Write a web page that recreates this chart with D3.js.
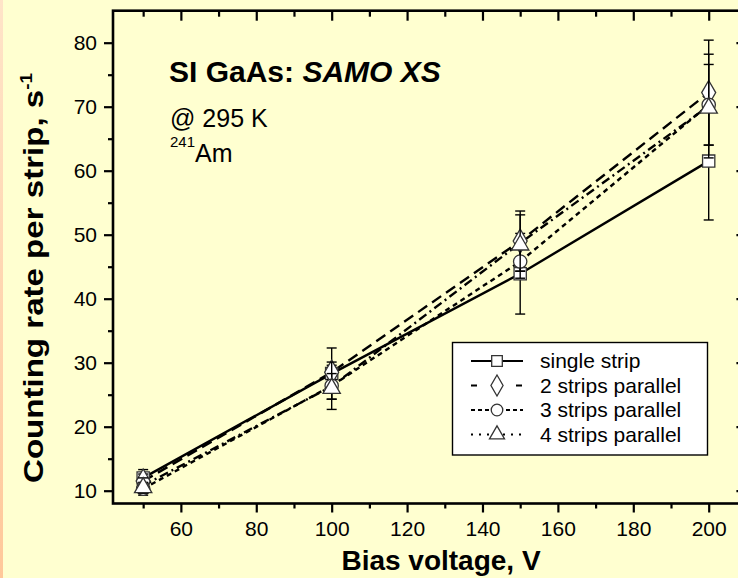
<!DOCTYPE html>
<html>
<head>
<meta charset="utf-8">
<script src="https://cdn.jsdelivr.net/npm/d3@7"></script>
<style>
  body { margin: 0; background: #FFFFD0; }
  svg { display: block; font-family: "Liberation Sans", Arial, sans-serif; }
</style>
</head>
<body>
<script>
// bias voltage, V
var voltages = [50, 100, 150, 200];
var seriesNames = ["single strip", "2 strips parallel", "3 strips parallel", "4 strips parallel"];
// counting rate per strip, s^-1
var singleStrip = [12.0, 28.3, 43.9, 61.5];
var twoStrips = [11.5, 28.5, 49.0, 72.2];
var threeStrips = [10.3, 26.4, 45.8, 70.3];
var fourStrips = [10.8, 26.3, 48.7, 70.1];
// error bars (+/-)
var singleErr = [1.3, 4.0, 6.3, 9.2];
var twoErr = [1.1, 1.1, 4.7, 8.2];
var threeErr = [1.0, 3.7, 2.6, 6.3];
var fourErr = [1.2, 2.0, 4.4, 8.1];
var xMajor = [60, 80, 100, 120, 140, 160, 180, 200];
var xMinor = [50, 70, 90, 110, 130, 150, 170, 190, 210];
var yMajor = [10, 20, 30, 40, 50, 60, 70, 80];
var yMinor = [15, 25, 35, 45, 55, 65, 75];

var width = 738, height = 578;
// plot frame (the right edge lies just past the picture)
var frameLeft = 113, frameRight = 746.4, frameTop = 10.7, frameBottom = 503.5;

var svg = d3.select("body").append("svg")
    .attr("width", width)
    .attr("height", height);

// peach strip on the left edge
var grad = svg.append("defs").append("linearGradient")
    .attr("id", "edge").attr("x1", 0).attr("y1", 0).attr("x2", 0).attr("y2", 1);
grad.append("stop").attr("offset", "0%").attr("stop-color", "#FFE4C8");
grad.append("stop").attr("offset", "100%").attr("stop-color", "#FFC89A");
svg.append("rect").attr("x", 0).attr("y", 0).attr("width", 3).attr("height", height)
    .style("fill", "url(#edge)");

var x = d3.scaleLinear().domain([42, 210]).range([frameLeft, frameRight]);
var y = d3.scaleLinear().domain([8, 85]).range([frameBottom, frameTop]);

/*
 * AXES
 */
function styleAxis(g){
    g.select(".domain").remove();
    g.selectAll(".tick line").style("stroke", "#000").style("stroke-width", 2.2);
    g.selectAll(".tick text").style("font-size", "21px").style("fill", "#000")
        .style("font-family", "'Liberation Sans', Arial, sans-serif");
}

svg.append("g").attr("transform", "translate(" + frameLeft + ",0)")
    .call(d3.axisLeft(y).tickValues(yMajor).tickSize(9).tickPadding(7).tickFormat(d3.format("d")))
    .call(styleAxis);
svg.append("g").attr("transform", "translate(" + frameLeft + ",0)")
    .call(d3.axisLeft(y).tickValues(yMinor).tickSize(5).tickFormat(""))
    .call(styleAxis);
svg.append("g").attr("transform", "translate(0," + frameBottom + ")")
    .call(d3.axisBottom(x).tickValues(xMajor).tickSize(9).tickPadding(9).tickFormat(d3.format("d")))
    .call(styleAxis);
svg.append("g").attr("transform", "translate(0," + frameBottom + ")")
    .call(d3.axisBottom(x).tickValues(xMinor).tickSize(5).tickFormat(""))
    .call(styleAxis);
// top and right: ticks point inward, no labels
svg.append("g").attr("transform", "translate(0," + frameTop + ")")
    .call(d3.axisBottom(x).tickValues(xMajor).tickSize(10).tickFormat(""))
    .call(styleAxis);
svg.append("g").attr("transform", "translate(0," + frameTop + ")")
    .call(d3.axisBottom(x).tickValues(xMinor).tickSize(6).tickFormat(""))
    .call(styleAxis);
svg.append("g").attr("transform", "translate(" + frameRight + ",0)")
    .call(d3.axisRight(y).tickValues(yMajor).tickSize(-10).tickFormat(""))
    .call(styleAxis);

svg.append("rect")
    .attr("x", frameLeft).attr("y", frameTop)
    .attr("width", frameRight - frameLeft).attr("height", frameBottom - frameTop)
    .style("fill", "none").style("stroke", "#000").style("stroke-width", 2.6);

// axis titles
svg.append("text")
    .attr("x", 441).attr("y", 570)
    .style("text-anchor", "middle").style("font-weight", "bold").style("font-size", "28px")
    .text("Bias voltage, V");

var yTitle = svg.append("text")
    .attr("transform", "translate(43,278) rotate(-90)")
    .attr("textLength", 410)
    .attr("lengthAdjust", "spacingAndGlyphs")
    .style("text-anchor", "middle").style("font-weight", "bold").style("font-size", "28px");
yTitle.append("tspan").text("Counting rate per strip, s");
yTitle.append("tspan").attr("dy", -11).style("font-size", "16px").text("-1");

// annotations
var title = svg.append("text").attr("x", 169).attr("y", 82)
    .style("font-weight", "bold").style("font-size", "30px");
title.append("tspan").text("SI GaAs: ");
title.append("tspan").style("font-style", "italic").text("SAMO XS");

svg.append("text").attr("x", 170).attr("y", 127).style("font-size", "25px").text("@ 295 K");
var iso = svg.append("text").attr("x", 170).attr("y", 162).style("font-size", "25px");
iso.append("tspan").attr("dy", -15).style("font-size", "15px").text("241");
iso.append("tspan").attr("dy", 15).text("Am");

/*
 * DATA
 */
var series = [
    {name: seriesNames[0], values: singleStrip, err: singleErr, dash: null, keyDash: null,
        symbol: d3.symbolSquare, size: 150},
    {name: seriesNames[1], values: twoStrips, err: twoErr, dash: "11,6", keyDash: "6,39,6",
        symbol: d3.symbolDiamond, size: 170},
    {name: seriesNames[2], values: threeStrips, err: threeErr, dash: "5,4", keyDash: "4,3",
        symbol: d3.symbolCircle, size: 140},
    {name: seriesNames[3], values: fourStrips, err: fourErr, dash: "9,4,2,4", keyDash: "2,6",
        symbol: d3.symbolTriangle, size: 130}
];

var line = d3.line()
    .x(function(d){ return x(d[0]); })
    .y(function(d){ return y(d[1]); });

var plot = svg.append("g");

series.forEach(function(s){
    var pts = voltages.map(function(v, i){ return [v, s.values[i], s.err[i]]; });
    plot.append("path")
        .datum(pts)
        .attr("d", line)
        .style("fill", "none")
        .style("stroke", "#000")
        .style("stroke-width", 2.4)
        .style("stroke-dasharray", s.dash);
});

series.forEach(function(s){
    var pts = voltages.map(function(v, i){ return [v, s.values[i], s.err[i]]; });
    var g = plot.append("g");
    var eb = g.selectAll("g.err").data(pts).enter().append("g").attr("class", "err");
    eb.append("line")
        .attr("x1", function(d){ return x(d[0]); })
        .attr("x2", function(d){ return x(d[0]); })
        .attr("y1", function(d){ return y(d[1] - d[2]); })
        .attr("y2", function(d){ return y(d[1] + d[2]); });
    eb.append("line")
        .attr("x1", function(d){ return x(d[0]) - 5; })
        .attr("x2", function(d){ return x(d[0]) + 5; })
        .attr("y1", function(d){ return y(d[1] + d[2]); })
        .attr("y2", function(d){ return y(d[1] + d[2]); });
    eb.append("line")
        .attr("x1", function(d){ return x(d[0]) - 5; })
        .attr("x2", function(d){ return x(d[0]) + 5; })
        .attr("y1", function(d){ return y(d[1] - d[2]); })
        .attr("y2", function(d){ return y(d[1] - d[2]); });
    eb.selectAll("line").style("stroke", "#000").style("stroke-width", 1.4);

    g.selectAll("path.mark").data(pts).enter().append("path")
        .attr("class", "mark")
        .attr("transform", function(d){
            var dy = s.symbol === d3.symbolTriangle ? 2 : 0;
            return "translate(" + x(d[0]) + "," + (y(d[1]) + dy) + ")";
        })
        .attr("d", d3.symbol().type(s.symbol).size(s.size))
        .style("fill", "#fff")
        .style("stroke", "#333")
        .style("stroke-width", 1.3);
});

/*
 * LEGEND
 */
var legend = svg.append("g");
legend.append("rect")
    .attr("x", 452.5).attr("y", 342.5).attr("width", 255).attr("height", 112.5)
    .style("fill", "#fff").style("stroke", "#000").style("stroke-width", 1.4);

var rows = legend.selectAll("g.row").data(series).enter().append("g")
    .attr("class", "row")
    .attr("transform", function(d, i){ return "translate(0," + (361 + i * 24.5) + ")"; });
rows.append("line")
    .attr("x1", 471).attr("x2", 523).attr("y1", 0).attr("y2", 0)
    .style("stroke", "#000").style("stroke-width", 2.2)
    .style("stroke-dasharray", function(d){ return d.keyDash; });
rows.append("path")
    .attr("transform", "translate(497,0)")
    .attr("d", function(d){ return d3.symbol().type(d.symbol).size(d.size * 0.75)(); })
    .style("fill", "#fff").style("stroke", "#333").style("stroke-width", 1.3);
rows.append("text")
    .attr("x", 540).attr("y", 7)
    .style("font-size", "21px")
    .text(function(d){ return d.name; });
</script>
</body>
</html>
